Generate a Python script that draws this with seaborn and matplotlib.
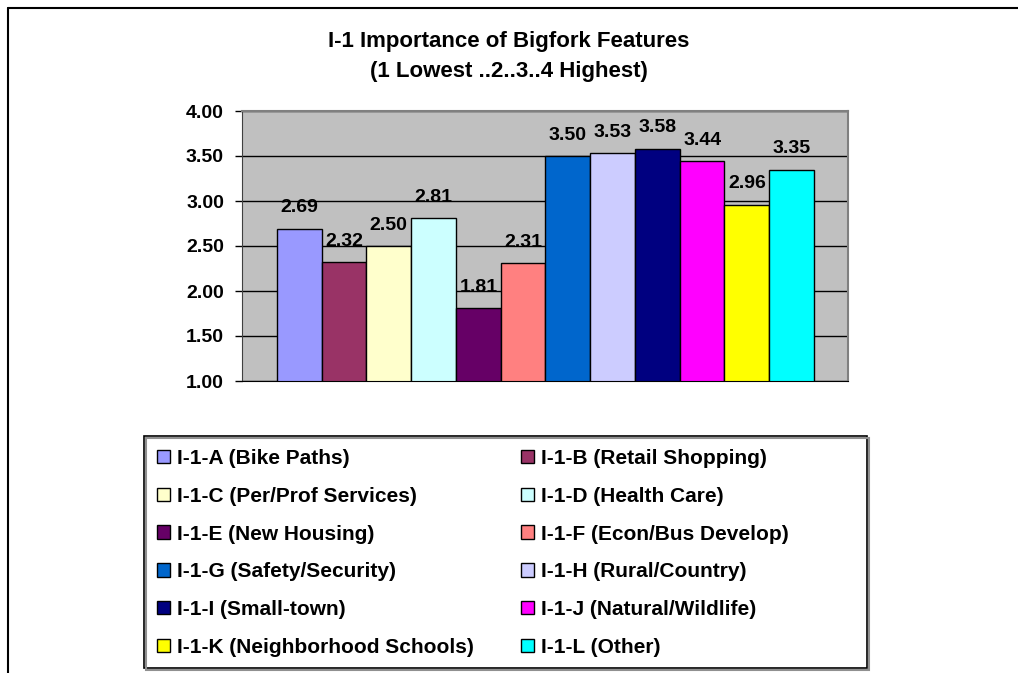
import seaborn as sns
from matplotlib import pyplot as plt
from matplotlib.patches import Rectangle
from matplotlib.lines import Line2D
import pandas as pd

# chart data
title_lines = ["I-1 Importance of Bigfork Features", "(1 Lowest ..2..3..4 Highest)"]
codes = ["I-1-A", "I-1-B", "I-1-C", "I-1-D", "I-1-E", "I-1-F",
         "I-1-G", "I-1-H", "I-1-I", "I-1-J", "I-1-K", "I-1-L"]
names = ["Bike Paths", "Retail Shopping", "Per/Prof Services", "Health Care",
         "New Housing", "Econ/Bus Develop", "Safety/Security", "Rural/Country",
         "Small-town", "Natural/Wildlife", "Neighborhood Schools", "Other"]
scores = [2.69, 2.32, 2.50, 2.81, 1.81, 2.31, 3.50, 3.53, 3.58, 3.44, 2.96, 3.35]
bar_colors = ["#9999FF", "#993366", "#FFFFCC", "#CCFFFF", "#660066", "#FF8080",
              "#0066CC", "#CCCCFF", "#000080", "#FF00FF", "#FFFF00", "#00FFFF"]
y_ticks = [1.00, 1.50, 2.00, 2.50, 3.00, 3.50, 4.00]

labels = [f"{c} ({n})" for c, n in zip(codes, names)]
df = pd.DataFrame({"feature": labels, "score": scores})

sns.set_style("white")
plt.rcParams["font.family"] = ["Liberation Sans", "DejaVu Sans"]
plt.rcParams["font.weight"] = "bold"
plt.rcParams["text.color"] = "black"
plt.rcParams["ytick.color"] = "black"
plt.rcParams["ytick.labelcolor"] = "black"

W, H = 1018, 673
fig = plt.figure(figsize=(W / 100, H / 100), dpi=100)
ax = fig.add_axes([242 / W, 1 - 381 / H, 606 / W, 270 / H])

sns.barplot(
    data=df, x="feature", y="score", hue="feature",
    palette=bar_colors, saturation=1, width=1.0, dodge=False,
    edgecolor="black", linewidth=1.0, ax=ax, legend=True,
)
ax.set_facecolor("#C0C0C0")
ax.set_ylim(1, 4)
ax.set_xlim(-0.5 - 0.78, 11.5 + 0.76)
ax.set_yticks(y_ticks)
ax.set_yticklabels([f"{t:.2f}" for t in y_ticks], fontsize=14, fontweight="bold", color="black")
ax.set_xticks([])
ax.set_xlabel("")
ax.set_ylabel("")
ax.yaxis.grid(True, color="black", linewidth=1.0)
ax.set_axisbelow(True)
ax.tick_params(axis="y", direction="out", length=5, width=1, color="black", pad=8, left=True)
for side in ["top", "right"]:
    ax.spines[side].set_color("#808080")
    ax.spines[side].set_linewidth(1.5)
ax.spines["left"].set_color("#404040")
ax.spines["bottom"].set_color("black")
for side in ax.spines:
    ax.spines[side].set_visible(True)

for cont in ax.containers:
    ax.bar_label(cont, fmt="%.2f", padding=9, fontsize=14, fontweight="bold", color="black")

# title centred on the figure
fig.text(0.5, 1 - 41 / H, title_lines[0], ha="center", va="center", fontsize=16, fontweight="bold")
fig.text(0.5, 1 - 71 / H, title_lines[1], ha="center", va="center", fontsize=16, fontweight="bold")

# legend, row-major order in two columns
old = ax.get_legend()
handles = list(old.legend_handles)
texts = [t.get_text() for t in old.texts]
old.remove()
for h in handles:
    h.set_edgecolor("black")
    h.set_linewidth(1.0)
order = [0, 2, 4, 6, 8, 10, 1, 3, 5, 7, 9, 11]
fig.legend(
    [handles[i] for i in order], [texts[i] for i in order],
    loc="upper left", bbox_to_anchor=(157 / W, 1 - 449 / H),
    ncol=2, frameon=False, borderpad=0, borderaxespad=0,
    prop={"size": 15, "weight": "bold"},
    handlelength=0.62, handleheight=0.62, handletextpad=0.33,
    labelspacing=0.90, columnspacing=2.27,
)

# legend box with a light shadow
fig.patches.append(Rectangle((146 / W, 1 - 670 / H), 723 / W, 232 / H, transform=fig.transFigure,
                             facecolor="none", edgecolor="#909090", linewidth=1.5))
fig.patches.append(Rectangle((144 / W, 1 - 668 / H), 723 / W, 232 / H, transform=fig.transFigure,
                             facecolor="white", edgecolor="black", linewidth=1.2, zorder=-1))

# outer chart frame (top and left edges visible)
fig.lines.append(Line2D([7.5 / W, 1], [1 - 7.5 / H, 1 - 7.5 / H], transform=fig.transFigure,
                        color="black", linewidth=1.5))
fig.lines.append(Line2D([7.5 / W, 7.5 / W], [0, 1 - 7.5 / H], transform=fig.transFigure,
                        color="black", linewidth=1.5))

fig.savefig("out.png", dpi=100)
